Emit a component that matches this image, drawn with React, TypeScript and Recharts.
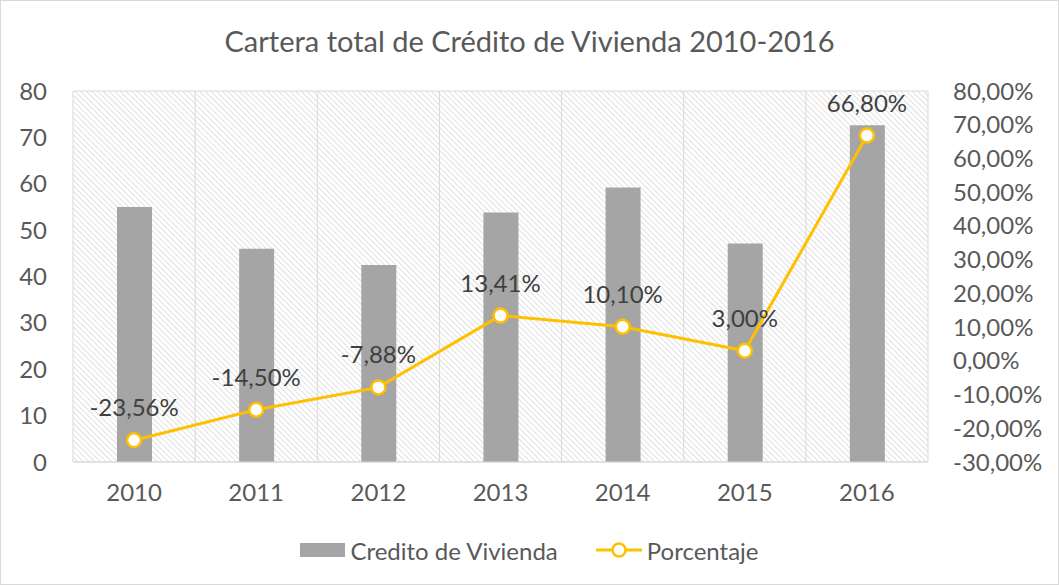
import {
  Bar,
  CartesianGrid,
  ComposedChart,
  LabelList,
  Legend,
  Line,
  XAxis,
  YAxis,
} from 'recharts';

const years = ['2010', '2011', '2012', '2013', '2014', '2015', '2016'];
const credito = [55, 46, 42.5, 53.8, 59.2, 47.1, 72.6];
const porcentaje = [-23.56, -14.5, -7.88, 13.41, 10.1, 3.0, 66.8];
const leftTicks = [0, 10, 20, 30, 40, 50, 60, 70, 80];
const rightTicks = [-30, -20, -10, 0, 10, 20, 30, 40, 50, 60, 70, 80];

const data = years.map((year, i) => ({
  year,
  credito: credito[i],
  porcentaje: porcentaje[i],
}));

const FONT = 'Lato, "Liberation Sans", sans-serif';
const TEXT = '#595959';
const BAR = '#a5a5a5';
const LINE = '#ffc000';

const pct = (v: number) => `${v.toFixed(2).replace('.', ',')}%`;

const LegendContent = () => (
  <div
    style={{
      display: 'flex',
      justifyContent: 'center',
      alignItems: 'center',
      gap: 38,
      height: 30,
      fontFamily: FONT,
      fontSize: 24,
      color: TEXT,
    }}
  >
    <span style={{ display: 'flex', alignItems: 'center', gap: 5 }}>
      <svg width={45} height={14}>
        <rect x={0} y={0} width={45} height={14} fill={BAR} />
      </svg>
      Credito de Vivienda
    </span>
    <span style={{ display: 'flex', alignItems: 'center', gap: 5 }}>
      <svg width={46} height={18}>
        <line x1={0} y1={9} x2={46} y2={9} stroke={LINE} strokeWidth={3} />
        <circle cx={23} cy={9} r={6.5} fill="#fff" stroke={LINE} strokeWidth={2.5} />
      </svg>
      Porcentaje
    </span>
  </div>
);

export default function App() {
  return (
    <div
      style={{
        position: 'absolute',
        top: 0,
        left: 0,
        width: 1057,
        height: 583,
        border: '1px solid #d9d9d9',
        background: '#fff',
      }}
    >
      <div
        style={{
          position: 'absolute',
          top: 22,
          left: 0,
          width: '100%',
          textAlign: 'center',
          fontFamily: FONT,
          fontSize: 29,
          color: TEXT,
        }}
      >
        Cartera total de Crédito de Vivienda 2010-2016
      </div>
      <ComposedChart
        width={1057}
        height={583}
        data={data}
        margin={{ top: 90, right: 0, left: 0, bottom: 32 }}
        style={{ fontFamily: FONT }}
      >
        <defs>
          <pattern id="hatch" width={4} height={4} patternUnits="userSpaceOnUse" patternTransform="rotate(-45)">
            <rect width={4} height={4} fill="#ffffff" />
            <line x1={0} y1={0} x2={0} y2={4} stroke="#d9d9d9" strokeWidth={1.6} />
          </pattern>
        </defs>
        <CartesianGrid
          stroke="#d9d9d9"
          fill="url(#hatch)"
          verticalCoordinatesGenerator={({ offset }: any) =>
            years.map((_, i) => offset.left + (i * offset.width) / years.length).concat(offset.left + offset.width)
          }
        />
        <XAxis
          dataKey="year"
          height={60}
          axisLine={{ stroke: '#d9d9d9' }}
          tickLine={false}
          tickMargin={16}
          tick={{ fill: TEXT, fontSize: 24 }}
        />
        <YAxis
          yAxisId="left"
          width={72}
          domain={[0, 80]}
          ticks={leftTicks}
          axisLine={false}
          tickLine={false}
          tickMargin={20}
          tick={{ fill: TEXT, fontSize: 24 }}
        />
        <YAxis
          yAxisId="right"
          orientation="right"
          width={130}
          domain={[-30, 80]}
          ticks={rightTicks}
          axisLine={false}
          tickLine={false}
          tickMargin={19}
          tickFormatter={pct}
          tick={{ fill: TEXT, fontSize: 24 }}
        />
        <Bar yAxisId="left" dataKey="credito" name="Credito de Vivienda" fill={BAR} barSize={35} isAnimationActive={false} />
        <Line
          yAxisId="right"
          dataKey="porcentaje"
          name="Porcentaje"
          stroke={LINE}
          strokeWidth={3}
          dot={{ r: 7, fill: '#fff', stroke: LINE, strokeWidth: 2.5 }}
          activeDot={false}
          isAnimationActive={false}
        >
          <LabelList dataKey="porcentaje" position="top" offset={24} formatter={(v: any) => pct(Number(v))} fill="#404040" fontSize={24} />
        </Line>
        <Legend verticalAlign="bottom" content={<LegendContent />} wrapperStyle={{ bottom: 19 }} />
      </ComposedChart>
    </div>
  );
}
